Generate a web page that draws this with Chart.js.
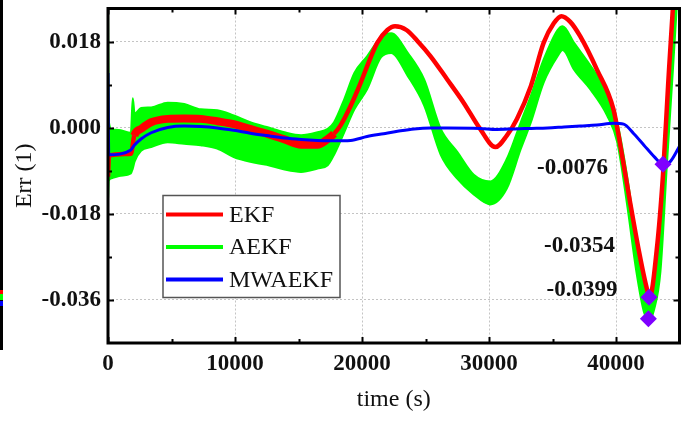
<!DOCTYPE html>
<html><head><meta charset="utf-8">
<script src="https://cdn.jsdelivr.net/npm/chart.js@4/dist/chart.umd.min.js"></script>
<style>html,body{margin:0;padding:0;background:#fff;}#wrap{width:691px;height:421px;position:relative;}</style>
</head><body><div id="wrap"><canvas id="c" width="691" height="421"></canvas></div>
<script>
// ---- data ----
const seriesNames = ['EKF', 'AEKF', 'MWAEKF'];
const xTicks = [0, 10000, 20000, 30000, 40000];
const yTicks = [-0.036, -0.018, 0, 0.018];

const ekfTime = [0,80,1800,2070,2600,3400,4700,6000,7300,8600,9900,11200,12500,13900,15200,16500,17300,17800,18300,19100,19900,20400,21200,22000,22600,23500,24400,25400,26700,28000,29300,30500,31400,32200,33300,34300,35100,35700,36400,37200,38500,39800,40300,41100,41800,42400,42650,43200,43700,44100,44500,44700];
const ekfErr = [-0.0102,-0.0058,-0.0054,-0.0016,-0.0002,0.0012,0.0019,0.0020,0.0019,0.0014,0.0008,-0.0002,-0.0012,-0.0024,-0.0035,-0.0035,-0.0023,-0.0012,0.0005,0.0046,0.0095,0.0129,0.0178,0.0205,0.0213,0.0205,0.0181,0.0150,0.0102,0.0053,-0.0002,-0.0040,-0.0016,0.0019,0.0088,0.0178,0.0219,0.0234,0.0222,0.0191,0.0122,0.0039,-0.0030,-0.0154,-0.0257,-0.0333,-0.0354,-0.0257,-0.0098,0.0088,0.0260,0.0320];

const aekfTime = [0,60,300,1000,1800,1950,2100,2600,3400,4700,6000,7300,8600,9900,11200,12500,13900,15200,16500,17300,17800,18600,19400,20400,21500,22300,23600,24900,26200,27500,28800,30100,31400,32500,33300,34300,35400,35800,36700,38000,39300,40100,40900,41600,42200,42600,43000,43500,44000,44500,44800];
const aekfUpper = [0.026,0.0015,-0.0003,-0.0005,-0.0010,0.0062,0.0030,0.0042,0.0043,0.0053,0.0050,0.0039,0.0037,0.0026,0.0012,0.0002,-0.0009,-0.0015,-0.0009,-0.0002,0.0012,0.0060,0.0115,0.0150,0.0190,0.0198,0.0157,0.0101,-0.0002,-0.0050,-0.0098,-0.0112,-0.0065,0.0012,0.0068,0.0143,0.0205,0.0213,0.0178,0.0130,0.0074,0.0012,-0.0105,-0.0235,-0.0325,-0.0365,-0.0310,-0.0200,-0.0010,0.0200,0.0300];
const aekfLower = [-0.0150,-0.0110,-0.0105,-0.0100,-0.0095,-0.0085,-0.0070,-0.0048,-0.0040,-0.0030,-0.0033,-0.0036,-0.0043,-0.0061,-0.0071,-0.0077,-0.0087,-0.0092,-0.0085,-0.0078,-0.0056,-0.0009,0.0039,0.0081,0.0148,0.0157,0.0109,0.0047,-0.0056,-0.0106,-0.0139,-0.0160,-0.0127,-0.0044,0.0012,0.0095,0.0150,0.0163,0.0122,0.0080,0.0026,-0.0030,-0.0165,-0.0300,-0.0385,-0.0403,-0.0380,-0.0300,-0.0080,0.0130,0.0260];

const mwTime = [0,60,1800,2070,2600,3400,4700,6000,7300,8600,9900,11200,12500,13900,15200,16500,17800,19100,20400,21700,22800,24100,25400,26700,29300,30600,32000,33300,34600,35900,37200,38500,39800,40600,41400,42200,43000,43700,44250,44900,45000];
const mwErr = [0.0115,-0.0056,-0.0046,-0.0036,-0.0023,-0.0010,0.0001,0.0004,0.0003,0.0000,-0.0005,-0.0011,-0.0016,-0.0021,-0.0024,-0.0026,-0.0027,-0.0026,-0.0018,-0.0012,-0.0007,-0.0002,0.0000,0.0000,-0.0001,-0.0003,-0.0002,-0.0001,0.0000,0.0002,0.0004,0.0006,0.0010,0.0008,-0.0012,-0.0036,-0.0060,-0.0076,-0.0071,-0.0043,-0.0038];

const markTime = [43700, 42600, 42550];
const markErr = [-0.0076, -0.0354, -0.0399];
const markLabels = ['-0.0076', '-0.0354', '-0.0399'];

// ---- build ----
const pts = (xs, ys) => xs.map((x, i) => ({x, y: ys[i]}));
const RED = '#ff0000', GREEN = '#00ff00', BLUE = '#0000ff', PURPLE = '#7f00ff';
const SERIF = '"Liberation Serif", "Times New Roman", serif';

const legendColors = [RED, GREEN, BLUE];
const labelOffsets = [[-55, 4], [-34, -51], [-31, -29]];

const decor = {
  id: 'decor',
  afterDraw(chart) {
    const {ctx, chartArea: a, scales: {x, y}} = chart;
    ctx.save();
    // partial neighbour frame at the far left edge
    ctx.fillStyle = '#000';
    ctx.fillRect(0, 0, 3, 350);
    ctx.fillStyle = RED; ctx.fillRect(0, 290, 3, 4);
    ctx.fillStyle = GREEN; ctx.fillRect(0, 294, 3, 6);
    ctx.fillStyle = BLUE; ctx.fillRect(0, 301, 3, 5);

    // inward ticks on all sides
    ctx.strokeStyle = '#000';
    ctx.lineWidth = 2;
    const xMinor = [], yMinor = [];
    for (let i = 0; i < xTicks.length; i++) {
      const next = i + 1 < xTicks.length ? xTicks[i + 1] : xTicks[i] + (xTicks[1] - xTicks[0]);
      xMinor.push((xTicks[i] + next) / 2);
    }
    for (let i = 0; i + 1 < yTicks.length; i++) yMinor.push((yTicks[i] + yTicks[i + 1]) / 2);
    const tickX = (v, len) => {
      const p = Math.round(x.getPixelForValue(v)) + 0.5;
      ctx.beginPath();
      ctx.moveTo(p, a.bottom); ctx.lineTo(p, a.bottom - len);
      ctx.moveTo(p, a.top); ctx.lineTo(p, a.top + len);
      ctx.stroke();
    };
    const tickY = (v, len) => {
      const p = Math.round(y.getPixelForValue(v)) + 0.5;
      ctx.beginPath();
      ctx.moveTo(a.left, p); ctx.lineTo(a.left + len, p);
      ctx.moveTo(a.right, p); ctx.lineTo(a.right - len, p);
      ctx.stroke();
    };
    xTicks.forEach(v => tickX(v, 6));
    xMinor.forEach(v => { if (v < x.max) tickX(v, 4); });
    yTicks.forEach(v => tickY(v, 6));
    yMinor.forEach(v => tickY(v, 4));

    // frame
    ctx.lineWidth = 3;
    ctx.strokeRect(a.left, a.top, a.right - a.left, a.bottom - a.top);

    // annotation labels next to markers
    ctx.font = 'bold 23px ' + SERIF;
    ctx.fillStyle = '#111';
    ctx.textAlign = 'right';
    ctx.textBaseline = 'middle';
    markLabels.forEach((t, i) => {
      const px = x.getPixelForValue(markTime[i]);
      const py = y.getPixelForValue(markErr[i]);
      ctx.fillText(t, px + labelOffsets[i][0], py + labelOffsets[i][1]);
    });

    // legend box
    const bx = a.left + 55, by = a.top + 187, bw = 177, bh = 102;
    ctx.fillStyle = '#fff';
    ctx.fillRect(bx, by, bw, bh);
    ctx.strokeStyle = '#555';
    ctx.lineWidth = 1.5;
    ctx.strokeRect(bx, by, bw, bh);
    ctx.font = '24px ' + SERIF;
    ctx.textAlign = 'left';
    ctx.textBaseline = 'middle';
    seriesNames.forEach((n, i) => {
      const ly = by + 19 + i * 32.5;
      ctx.strokeStyle = legendColors[i];
      ctx.lineWidth = 4;
      ctx.beginPath(); ctx.moveTo(bx + 3, ly); ctx.lineTo(bx + 60, ly); ctx.stroke();
      ctx.fillStyle = '#111';
      ctx.fillText(n, bx + 66, ly + 1);
    });
    ctx.restore();
  }
};

new Chart(document.getElementById('c'), {
  type: 'line',
  data: {
    datasets: [
      { label: 'markers', type: 'scatter', data: pts(markTime, markErr), order: 0,
        pointStyle: 'rectRot', pointRadius: 8.5, pointBackgroundColor: PURPLE, pointBorderWidth: 0, showLine: false },
      { label: seriesNames[2], data: pts(mwTime, mwErr), order: 1, borderColor: BLUE, borderWidth: 3,
        pointRadius: 0, cubicInterpolationMode: 'monotone', fill: false },
      { label: seriesNames[0], data: pts(ekfTime, ekfErr), order: 2, borderColor: RED, borderWidth: 4.5,
        pointRadius: 0, cubicInterpolationMode: 'monotone', fill: false,
        segment: { borderWidth: c => (c.p0.parsed.x >= 2000 && c.p1.parsed.x <= 17800) ? 8 : undefined } },
      { label: seriesNames[1] + ' upper', data: pts(aekfTime, aekfUpper), order: 4, borderColor: GREEN, borderWidth: 2,
        pointRadius: 0, cubicInterpolationMode: 'monotone', fill: false },
      { label: seriesNames[1], data: pts(aekfTime, aekfLower), order: 3, borderColor: GREEN, borderWidth: 2,
        backgroundColor: GREEN, pointRadius: 0, cubicInterpolationMode: 'monotone', fill: '-1' }
    ]
  },
  options: {
    responsive: false, animation: false, devicePixelRatio: 1,
    layout: { padding: { top: 5, right: 11.5, left: 0, bottom: 0 } },
    plugins: { legend: { display: false }, tooltip: { enabled: false } },
    scales: {
      x: {
        type: 'linear', min: 0, max: 45000,
        afterBuildTicks: s => { s.ticks = xTicks.map(v => ({value: v})); },
        afterFit: s => { s.height = 78; s.paddingLeft = 0; s.paddingRight = 0; },
        ticks: { color: '#111', font: { family: SERIF, size: 23, weight: 'bold' }, padding: 7, maxRotation: 0,
          callback: v => String(v) },
        grid: { color: '#c4c4c4', lineWidth: 1, drawTicks: false },
        border: { display: false, dash: [2, 2] },
        title: { display: true, text: 'time (s)', color: '#111', font: { family: SERIF, size: 24 }, padding: { top: 0, bottom: 7 } }
      },
      y: {
        type: 'linear', min: -0.045, max: 0.025,
        afterBuildTicks: s => { s.ticks = yTicks.map(v => ({value: v})); },
        afterFit: s => { s.width = 108; s.paddingTop = 0; s.paddingBottom = 0; },
        ticks: { color: '#111', font: { family: SERIF, size: 23, weight: 'bold' }, padding: 7,
          callback: v => v.toFixed(3) },
        grid: { color: '#c4c4c4', lineWidth: 1, drawTicks: false },
        border: { display: false, dash: [2, 2] },
        title: { display: true, text: 'Err (1)', color: '#111', font: { family: SERIF, size: 24 }, padding: { top: 10, bottom: 0 } }
      }
    }
  },
  plugins: [decor]
});
</script></body></html>
